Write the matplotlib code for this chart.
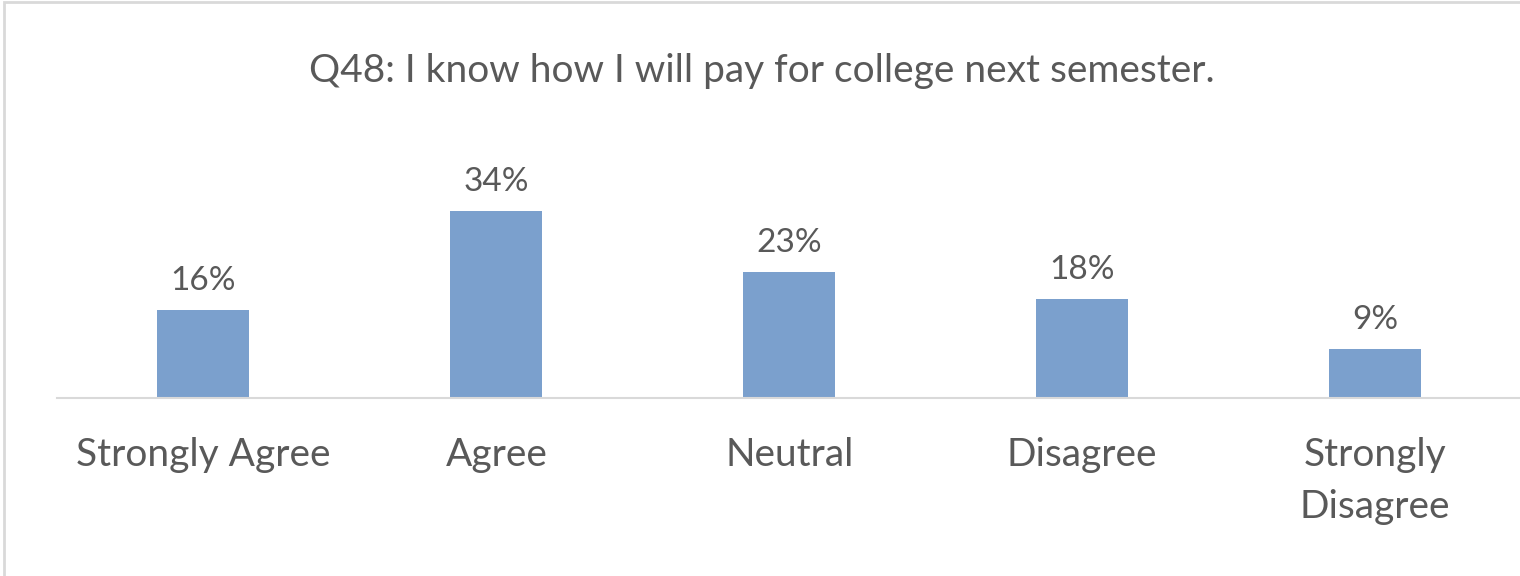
import matplotlib.pyplot as plt
from matplotlib.patches import Rectangle

categories = ["Strongly Agree", "Agree", "Neutral", "Disagree", "Strongly\nDisagree"]
percent = [16, 34, 23, 18, 9]
title = "Q48: I know how I will pay for college next semester."

plt.rcParams['font.family'] = ['Lato', 'DejaVu Sans']
text_color = '#595959'

fig = plt.figure(figsize=(15.2, 5.76), dpi=100)
W, H = 1520, 576

# axes: x from the left edge of the first slot to the right edge of the last
base_px = 398
ax = fig.add_axes([57 / W, (H - base_px) / H, (1521.5 - 57) / W, 220 / H])
ax.set_xlim(-0.5, 4.5)
ax.set_ylim(0, 220 / 5.5)

x = range(len(categories))
bars = ax.bar(x, percent, width=0.314, color='#7BA0CD')

for b, v in zip(bars, percent):
    ax.annotate(f"{v}%", (b.get_x() + b.get_width() / 2, v),
                xytext=(0, 10), textcoords='offset points',
                ha='center', va='bottom', fontsize=24, color=text_color)

for s in ['top', 'left', 'right']:
    ax.spines[s].set_visible(False)
ax.spines['bottom'].set_color('#D9D9D9')
ax.spines['bottom'].set_linewidth(1.5)
ax.set_yticks([])
ax.set_xticks(list(x))
ax.set_xticklabels(categories, fontsize=28, color=text_color, linespacing=1.55,
                   va='top')
ax.tick_params(axis='x', length=0, pad=28)

fig.text(762 / W, 1 - 71 / H, title, ha='center', va='center',
         fontsize=28, color=text_color)

# light frame around the chart area
fig.patches.append(Rectangle((4 / W, -0.1), 1.2, 1.1 - 1.5 / H,
                             transform=fig.transFigure, fill=False,
                             edgecolor='#D9D9D9', linewidth=2))

fig.savefig('out.png', dpi=100)
